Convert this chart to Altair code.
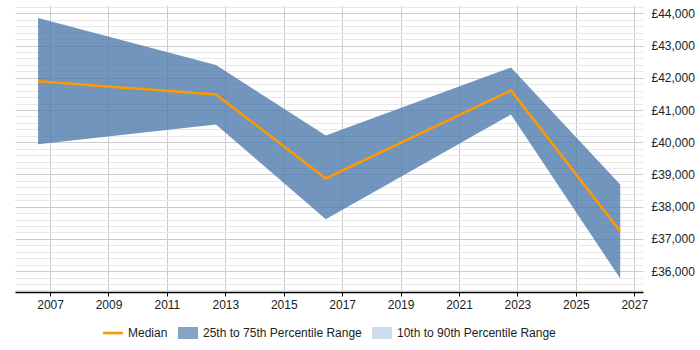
import altair as alt
import pandas as pd

# Salary percentiles by year
years = [2006.59, 2012.68, 2016.44, 2022.78, 2026.52]
p25 = [39935, 40553, 37612, 40863, 35770]
median = [41890, 41484, 38876, 41609, 37239]
p75 = [43854, 42394, 40211, 42323, 38690]

# Legend entries
series = ["Median", "25th to 75th Percentile Range", "10th to 90th Percentile Range"]
series_colors = ["#ff9900", "#86a3c4", "#cddcec"]
series_shapes = ["M-1,-0.13H1V0.13H-1Z", "M-1,-0.6H1V0.6H-1Z", "M-1,-0.6H1V0.6H-1Z"]

x_ticks = list(range(2007, 2028, 2))
y_ticks = list(range(35400, 44201, 200))

FONT = "Liberation Sans"

df = pd.DataFrame({"year": years, "p25": p25, "median": median, "p75": p75})
legend_df = pd.DataFrame({"series": series, "year": [2015.0] * 3, "v": [0] * 3})

x_scale = alt.Scale(domain=[2005.8, 2027.3], nice=False, zero=False)
y_scale = alt.Scale(domain=[35350, 44260], nice=False, zero=False)

x_axis = alt.Axis(
    values=x_ticks, tickCount=100, labelExpr="format(datum.value, 'd')", title=None,
    grid=True, gridColor="#cccccc", gridWidth=1,
    domainColor="#000000", domainWidth=1.5, tickColor="#000000", tickSize=4,
    labelFont=FONT, labelFontSize=12, labelColor="#222222", labelPadding=3,
    labelOverlap=False,
)
y_axis = alt.Axis(
    orient="right", values=y_ticks, tickCount=100, title=None,
    labelExpr="datum.value % 1000 === 0 ? '£' + format(datum.value, ',') : ''",
    grid=True,
    gridColor=alt.condition("datum.value % 1000 === 0", alt.value("#cccccc"), alt.value("#e8e8e8")),
    domain=False, ticks=False,
    labelFont=FONT, labelFontSize=12, labelColor="#222222", labelPadding=8,
    labelOverlap=False,
)

base = alt.Chart(df)

band = base.mark_area(color="#4a78aa", opacity=0.78).encode(
    x=alt.X("year:Q", scale=x_scale, axis=x_axis),
    y=alt.Y("p25:Q", scale=y_scale, axis=y_axis),
    y2="p75:Q",
)

line = base.mark_line(color="#ff9900", strokeWidth=2.5).encode(
    x=alt.X("year:Q", scale=x_scale, axis=x_axis),
    y=alt.Y("median:Q", scale=y_scale, axis=y_axis),
)

legend_layer = alt.Chart(legend_df).mark_point(filled=True, opacity=1, clip=True, strokeWidth=0).encode(
    x=alt.X("year:Q", scale=x_scale, axis=x_axis),
    y=alt.Y("v:Q", scale=y_scale, axis=y_axis),
    color=alt.Color(
        "series:N",
        scale=alt.Scale(domain=series, range=series_colors),
        legend=alt.Legend(
            title=None, orient="none", direction="horizontal", legendX=88, legendY=318,
            symbolSize=400, symbolStrokeWidth=0, labelFont=FONT, labelFontSize=12,
            labelColor="#222222", labelOffset=5, columnPadding=10, labelLimit=400,
        ),
    ),
    shape=alt.Shape(
        "series:N",
        scale=alt.Scale(domain=series, range=series_shapes),
        legend=None,
    ),
)

chart = alt.layer(band, line, legend_layer).properties(
    width=628,
    height=287,
    autosize=alt.AutoSizeParams(type="none"),
    padding={"left": 15, "top": 5, "right": 57, "bottom": 58},
).configure_view(stroke=None).configure_legend(symbolType="square")

chart.save("out.html", embed_options={"renderer": "svg", "actions": False})
